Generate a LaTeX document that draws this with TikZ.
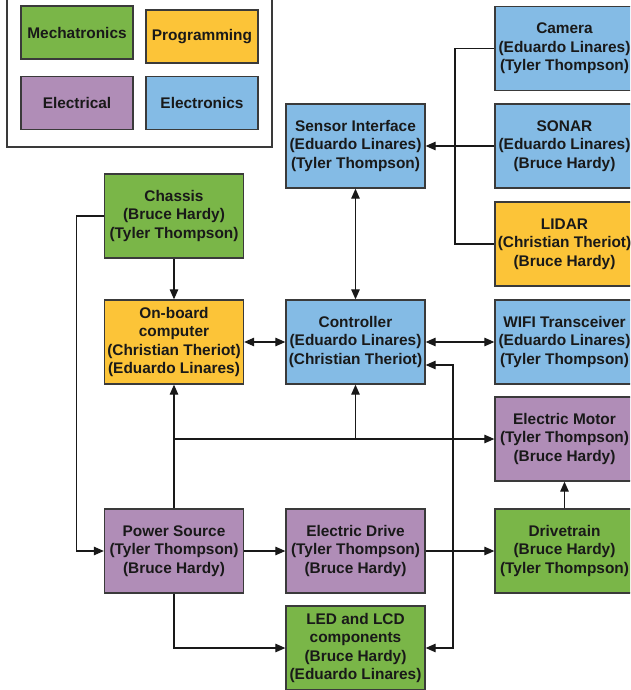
\documentclass[tikz,border=0pt]{standalone}
\usepackage{fontspec}
\setmainfont{Liberation Sans}
\usetikzlibrary{arrows.meta}
\definecolor{mgreen}{HTML}{7AB648}
\definecolor{myellow}{HTML}{FCC438}
\definecolor{mpurple}{HTML}{B08DB7}
\definecolor{mblue}{HTML}{84BBE5}
\definecolor{mborder}{HTML}{3A3A3A}
\begin{document}
\begin{tikzpicture}[x=1pt,y=-1pt,
  box/.style={draw=mborder,line width=1.3pt,minimum width=139pt,minimum height=84pt,
    inner sep=0pt,align=center,font=\fontsize{15.4}{18.6}\selectfont\bfseries,text=black!90},
  leg/.style={box,minimum width=112pt,minimum height=53pt},
  gbox/.style={box,fill=mgreen},
  ybox/.style={box,fill=myellow},
  pbox/.style={box,fill=mpurple},
  bbox/.style={box,fill=mblue},
  conn/.style={draw=black!90,line width=1.2pt},
  tip/.style={conn,-{Triangle[length=10pt,width=8.5pt]}},
  tips/.style={conn,{Triangle[length=10pt,width=8.5pt]}-{Triangle[length=10pt,width=8.5pt]}}]
\useasboundingbox (0,0) rectangle (630,690);
\clip (0,0) rectangle (630,690);
\fill[white] (0,0) rectangle (630,690);
% legend
\draw[draw=mborder,line width=1.3pt] (7,-5) rectangle (272,147);
\node[leg,fill=mgreen] (lmech) at (77,32.5) {Mechatronics};
\node[leg,fill=myellow] (lprog) at (202,36.5) {Programming};
\node[leg,fill=mpurple] (lelec) at (77,103) {Electrical};
\node[leg,fill=mblue] (lelectro) at (202,103) {Electronics};
% nodes
\node[bbox] (camera) at (564.5,48.5) {Camera\\(Eduardo Linares)\\(Tyler Thompson)};
\node[bbox] (sonar) at (564.5,146) {SONAR\\(Eduardo Linares)\\(Bruce Hardy)};
\node[ybox] (lidar) at (564.5,244) {LIDAR\\(Christian Theriot)\\(Bruce Hardy)};
\node[bbox] (sensor) at (355.5,146) {Sensor Interface\\(Eduardo Linares)\\(Tyler Thompson)};
\node[gbox] (chassis) at (174,216) {Chassis\\(Bruce Hardy)\\(Tyler Thompson)};
\node[ybox] (onboard) at (174,342) {On-board\\computer\\(Christian Theriot)\\(Eduardo Linares)};
\node[bbox] (controller) at (355.5,342) {Controller\\(Eduardo Linares)\\(Christian Theriot)};
\node[bbox] (wifi) at (564.5,342) {WIFI Transceiver\\(Eduardo Linares)\\(Tyler Thompson)};
\node[pbox] (motor) at (564.5,439) {Electric Motor\\(Tyler Thompson)\\(Bruce Hardy)};
\node[pbox] (power) at (174,551) {Power Source\\(Tyler Thompson)\\(Bruce Hardy)};
\node[pbox] (drive) at (355.5,551) {Electric Drive\\(Tyler Thompson)\\(Bruce Hardy)};
\node[gbox] (drivetrain) at (564.5,551) {Drivetrain\\(Bruce Hardy)\\(Tyler Thompson)};
\node[gbox] (led) at (355.5,648) {LED and LCD\\components\\(Bruce Hardy)\\(Eduardo Linares)};
% coordinates
\coordinate (bx) at (455,146);
\coordinate (j1) at (174,439);
\coordinate (lc) at (453,648);
% connectors
\draw[conn] (camera.west) -| (bx) |- (lidar.west);
\draw[tip] (sonar.west) -- (sensor.east);
\draw[tips] (sensor.south) -- (controller.north);
\draw[tip] (chassis.south) -- (onboard.north);
\draw[tips] (onboard.east) -- (controller.west);
\draw[tips] (controller.east) -- (wifi.west);
\draw[tip] (chassis.west) -- ++(-27,0) |- (power.west);
\draw[tip] (power.north) -- (onboard.south);
\draw[tip] (j1) -- (motor.west);
\draw[tip] (controller.south |- j1) -- (controller.south);
\draw[tip] (drivetrain.north) -- (motor.south);
\draw[tip] (power.east) -- (drive.west);
\draw[tip] (drive.east) -- (drivetrain.west);
\draw[tip] (power.south) |- (led.west);
\draw[tips] (led.east) -- (lc) |- ([yshift=-23pt]controller.east);
\end{tikzpicture}
\end{document}
